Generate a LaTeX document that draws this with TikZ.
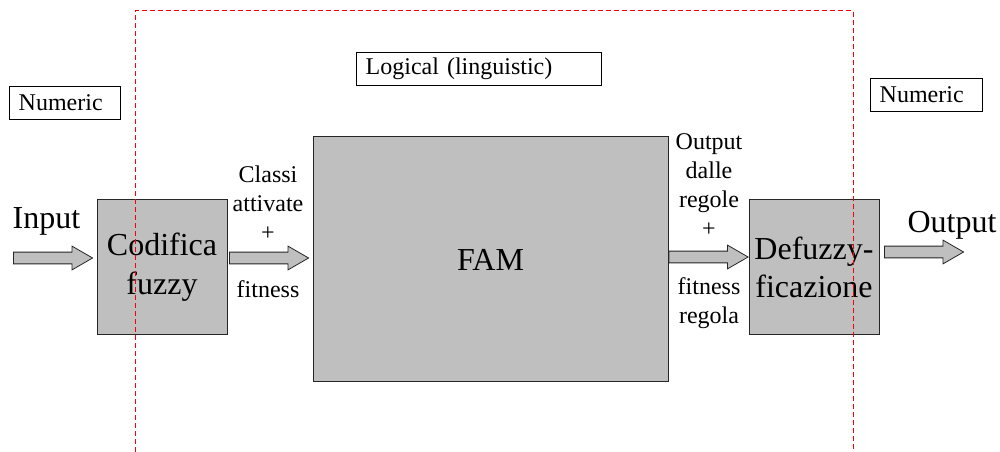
\documentclass[tikz,border=0pt]{standalone}
\usepackage{fontspec}
\setmainfont{Liberation Serif}
\usetikzlibrary{shapes.arrows}

\tikzset{
  stage/.style={draw=black!85, fill=black!25, line width=0.75pt,
    minimum width=97.5pt, minimum height=101.25pt, align=center,
    font=\fontsize{24}{29}\selectfont},
  tag/.style={draw, line width=0.6pt, anchor=west, inner xsep=7pt,
    minimum height=24.75pt, align=left, font=\fontsize{18}{21.75}\selectfont},
  flow/.style={single arrow, draw=black!85, fill=black!25, line width=0.6pt,
    single arrow head extend=4.5pt, single arrow tip angle=60,
    minimum height=59.25pt, minimum width=17.25pt, inner xsep=0pt,
    inner ysep=4.1pt},
  note/.style={align=center, font=\fontsize{18}{21.75}\selectfont},
  big/.style={font=\fontsize{24}{28.5}\selectfont},
  logicline/.style={draw=red, line width=0.75pt, dash pattern=on 3.5pt off 2.5pt}
}

\begin{document}
\begin{tikzpicture}[x=0.75pt,y=-0.75pt]
  \useasboundingbox (0,0) rectangle (1000,452);

  % processing stages
  \node[stage] (cod) at (162,267.5) {Codifica\\fuzzy};
  \node[stage, minimum width=266.25pt, minimum height=183.75pt] (fam)
    at (490.5,259.5) {FAM};
  \node[stage] (dfz) at (814,267.5) {Defuzzy-\\ficazione};

  % domain tags
  \node[tag, text width=69.25pt] (numl) at (9,102.5) {Numeric};
  \node[tag, text width=169.75pt] (logic) at (356,68.5) {Logical (linguistic)};
  \node[tag, text width=70pt] (numr) at (870,94.5) {Numeric};

  % block arrows
  \foreach \n/\x/\y in {in/48/258, act/264/258, rul/703.5/257, out/919/252}{
    \node[flow] (a\n) at (\x,\y) {};
  }

  % labels
  \node[big, anchor=base] (lin) at (46.5,229) {Input};
  \node[big, anchor=base] (lout) at (952,233) {Output};
  \node[note, anchor=base] (cin) at (268,241) {Classi\\attivate\\+};
  \node[note, anchor=base] (fin) at (268,298) {fitness};
  \node[note, anchor=base] (cout) at (709,237) {Output\\dalle\\regole\\+};
  \node[note, anchor=base] (fout) at (709,324) {fitness\\regola};

  % logical domain
  \draw[logicline] (135,452) |- (853,11) -- (853,452);
\end{tikzpicture}
\end{document}
